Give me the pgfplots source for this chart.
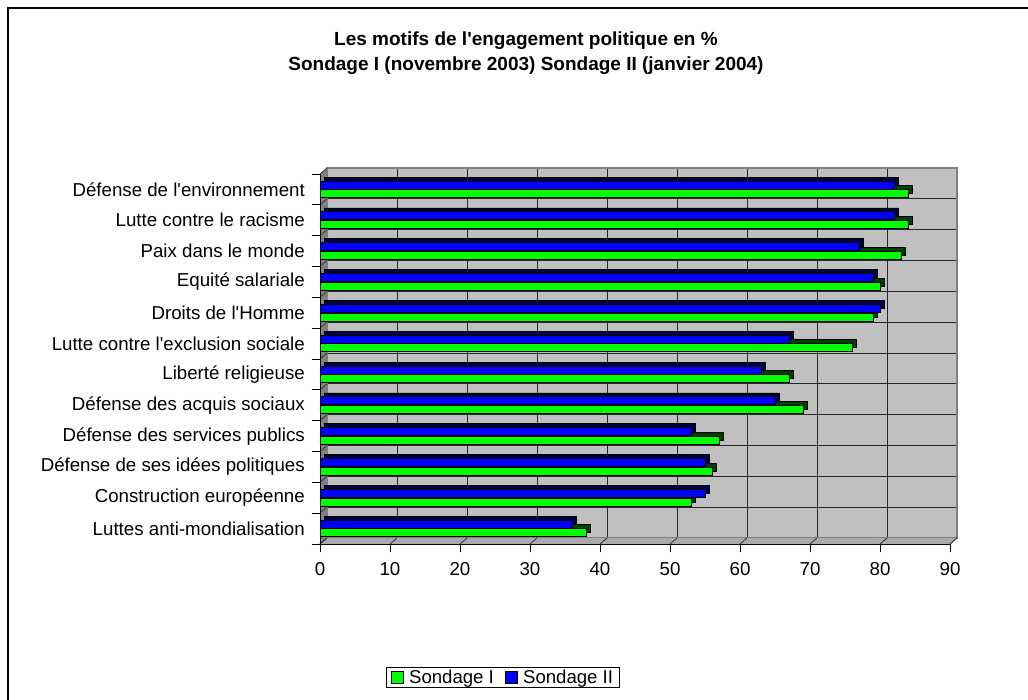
\documentclass[border=0pt]{standalone}
\usepackage{fontspec}
\setmainfont{Liberation Sans}
\usepackage{pgfplots}
\usepackage{pgfplotstable}
\pgfplotsset{compat=1.18}
\definecolor{wallgray}{RGB}{192,192,192}
\definecolor{xlgreen}{RGB}{0,255,0}
\definecolor{xlblue}{RGB}{0,0,255}
\definecolor{sidegray}{RGB}{128,128,128}
\definecolor{floorgray}{RGB}{170,170,170}

\pgfplotstableread{
idx s1 s2
0 38 36
1 53 55
2 56 55
3 57 53
4 69 65
5 67 63
6 76 67
7 79 80
8 80 79
9 83 77
10 84 82
11 84 82
}\data

\newcommand{\q}{\textquotesingle}

\begin{document}
\begin{tikzpicture}
\useasboundingbox (0,0) rectangle (1028bp,-700bp);
% chart frame
\draw[black, line width=1.2bp] (8bp,-700bp) -- (8bp,-8bp) -- (1028bp,-8bp);
% title
\node[anchor=base, inner sep=0pt, font=\fontsize{19bp}{25bp}\selectfont\bfseries] at (526bp,-45bp)
 {Les motifs de l\q engagement politique en \%};
\node[anchor=base, inner sep=0pt, font=\fontsize{19bp}{25bp}\selectfont\bfseries] at (526bp,-70bp)
 {Sondage I (novembre 2003) Sondage II (janvier 2004)};

% back wall
\begin{axis}[
  at={(327bp,-538bp)}, anchor=south west,
  width=630bp, height=370bp, scale only axis,
  xmin=0, xmax=90, ymin=-0.5, ymax=11.5,
  axis background/.style={fill=wallgray},
  xtick={0,10,...,90}, ytick={-0.5,0.5,...,11.5},
  xticklabels={}, yticklabels={},
  major tick length=0pt,
  grid=major, major grid style={black!85, line width=0.9bp},
  axis line style={draw=sidegray, line width=1.5bp},
]
\end{axis}

% floor and left wall
\fill[floorgray] (320bp,-544bp) -- (950bp,-544bp) -- (957bp,-538bp) -- (327bp,-538bp) -- cycle;
\draw[sidegray, line width=1bp] (950bp,-544bp) -- (957bp,-538bp);
\fill[sidegray] (320bp,-544bp) -- (327bp,-538bp) -- (327bp,-168bp) -- (320bp,-174bp) -- cycle;
\foreach \k in {0,...,9} {
  \draw[black!80, line width=0.8bp] ({320bp+70bp*\k},-544bp) -- ({327bp+70bp*\k},-538bp);
}
\foreach \k in {0,...,12} {
  \draw[black!80, line width=0.8bp] (320bp,{-174bp-30.8333bp*\k}) -- (327bp,{-168bp-30.8333bp*\k});
}

% front axis with bars
\begin{axis}[
  at={(320bp,-544bp)}, anchor=south west,
  width=630bp, height=370bp, scale only axis,
  xmin=0, xmax=90, ymin=-0.5, ymax=11.5,
  axis x line*=bottom, axis y line*=left,
  axis line style={black, line width=1bp},
  tick style={black, line width=1bp},
  tick align=outside,
  major tick length=8bp,
  xtick={0,10,...,90},
  ytick={-0.5,0.5,...,11.5}, yticklabels={},
  extra y ticks={0,1,...,11},
  extra y tick labels={Luttes anti-mondialisation,Construction européenne,Défense de ses idées politiques,Défense des services publics,Défense des acquis sociaux,Liberté religieuse,Lutte contre l\q exclusion sociale,Droits de l\q Homme,Equité salariale,Paix dans le monde,Lutte contre le racisme,Défense de l\q environnement},
  extra y tick style={major tick length=0pt, yticklabel style={inner sep=0pt, xshift=-15bp}},
  /pgf/number format/assume math mode=true,
  ticklabel style={font=\fontsize{18.7bp}{20bp}\selectfont},
  xticklabel style={inner sep=0pt, yshift=-10bp},
  legend style={at={(0.2905,-0.3608)}, anchor=center, draw=black, line width=1bp,
    font=\fontsize{18.6bp}{20bp}\selectfont, inner xsep=4bp, inner ysep=0.5bp,
    /tikz/every even column/.append style={column sep=9bp}},
  legend columns=2,
]
\addplot[xbar, bar width=8bp, bar shift=-4.3bp, fill=xlgreen!25!black, draw=black, line width=0.8bp, xshift=4bp, yshift=4bp, forget plot] table[x=s1,y=idx]{\data};
\addplot[xbar, bar width=8bp, bar shift=-4.3bp, fill=xlgreen, draw=black, line width=1bp, forget plot] table[x=s1,y=idx]{\data};
\addplot[xbar, bar width=8bp, bar shift=4.3bp, fill=xlblue!25!black, draw=black, line width=0.8bp, xshift=4bp, yshift=4bp, forget plot] table[x=s2,y=idx]{\data};
\addplot[xbar, bar width=8bp, bar shift=4.3bp, fill=xlblue, draw=black, line width=1bp, forget plot] table[x=s2,y=idx]{\data};
\addlegendimage{legend image code/.code={\draw[fill=xlgreen,draw=black,line width=1.2bp] (2bp,-6bp) rectangle (14bp,6bp);}}
\addlegendentry{\hspace{3bp}Sondage I}
\addlegendimage{legend image code/.code={\draw[fill=xlblue,draw=black,line width=1.2bp] (0bp,-6bp) rectangle (12bp,6bp);}}
\addlegendentry{\hspace{3bp}Sondage II}
\end{axis}
\end{tikzpicture}
\end{document}
